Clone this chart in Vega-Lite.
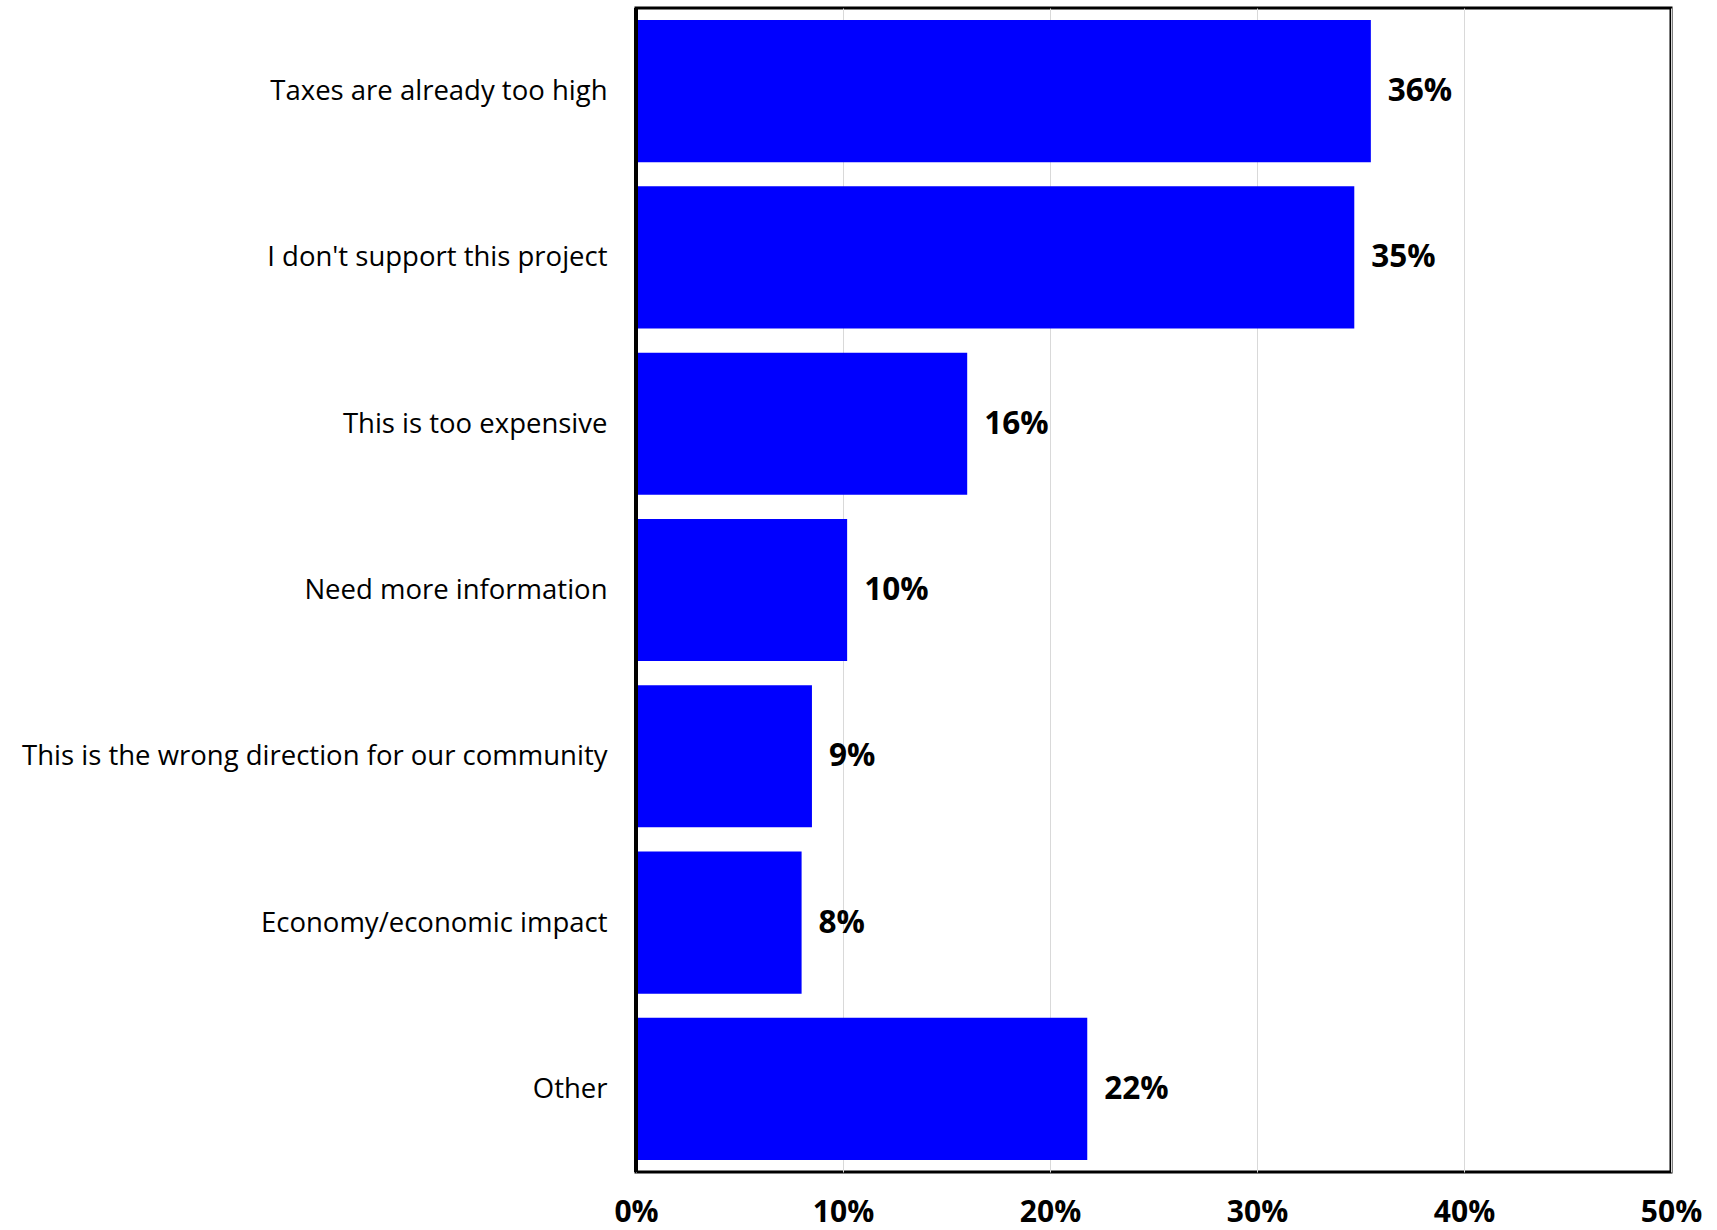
{
  "$schema": "https://vega.github.io/schema/vega-lite/v6.json",
  "width": 1035,
  "height": 1164,
  "autosize": {"type": "none"},
  "padding": {"left": 636, "top": 8, "right": 46, "bottom": 58},
  "background": "white",
  "config": {
    "view": {"stroke": "black", "strokeWidth": 3},
    "font": "Open Sans"
  },
  "data": {
    "values": [
      {"reason": "Taxes are already too high", "pct": 35.5, "label": "36%"},
      {"reason": "I don't support this project", "pct": 34.7, "label": "35%"},
      {"reason": "This is too expensive", "pct": 16.0, "label": "16%"},
      {"reason": "Need more information", "pct": 10.2, "label": "10%"},
      {"reason": "This is the wrong direction for our community", "pct": 8.5, "label": "9%"},
      {"reason": "Economy/economic impact", "pct": 8.0, "label": "8%"},
      {"reason": "Other", "pct": 21.8, "label": "22%"}
    ]
  },
  "encoding": {
    "y": {
      "field": "reason",
      "type": "nominal",
      "sort": null,
      "scale": {"paddingInner": 0.145, "paddingOuter": 0.0725},
      "axis": {
        "title": null,
        "domain": false,
        "ticks": false,
        "labelFont": "Open Sans",
        "labelFontSize": 27.5,
        "labelColor": "black",
        "labelPadding": 29,
        "labelLimit": 700,
        "labelOffset": 1
      }
    },
    "x": {
      "field": "pct",
      "type": "quantitative",
      "scale": {"domain": [0, 50], "nice": false},
      "axis": {
        "title": null,
        "values": [0, 10, 20, 30, 40, 50],
        "labelExpr": "datum.value + '%'",
        "domain": false,
        "ticks": false,
        "grid": true,
        "gridColor": "#d9d9d9",
        "gridWidth": 1,
        "labelFont": "Open Sans",
        "labelFontSize": 30,
        "labelFontWeight": "bold",
        "labelColor": "black",
        "labelPadding": 25,
        "labelFlush": false
      }
    }
  },
  "layer": [
    {"mark": {"type": "bar", "color": "#0000FF"}},
    {
      "mark": {"type": "text", "align": "left", "baseline": "middle", "dx": 17, "dy": 1, "font": "Open Sans", "fontSize": 31.5, "fontWeight": "bold", "color": "black"},
      "encoding": {"text": {"field": "label"}}
    },
    {
      "mark": {"type": "rule", "color": "black", "strokeWidth": 3},
      "encoding": {"x": {"datum": 0}, "y": null}
    }
  ]
}
